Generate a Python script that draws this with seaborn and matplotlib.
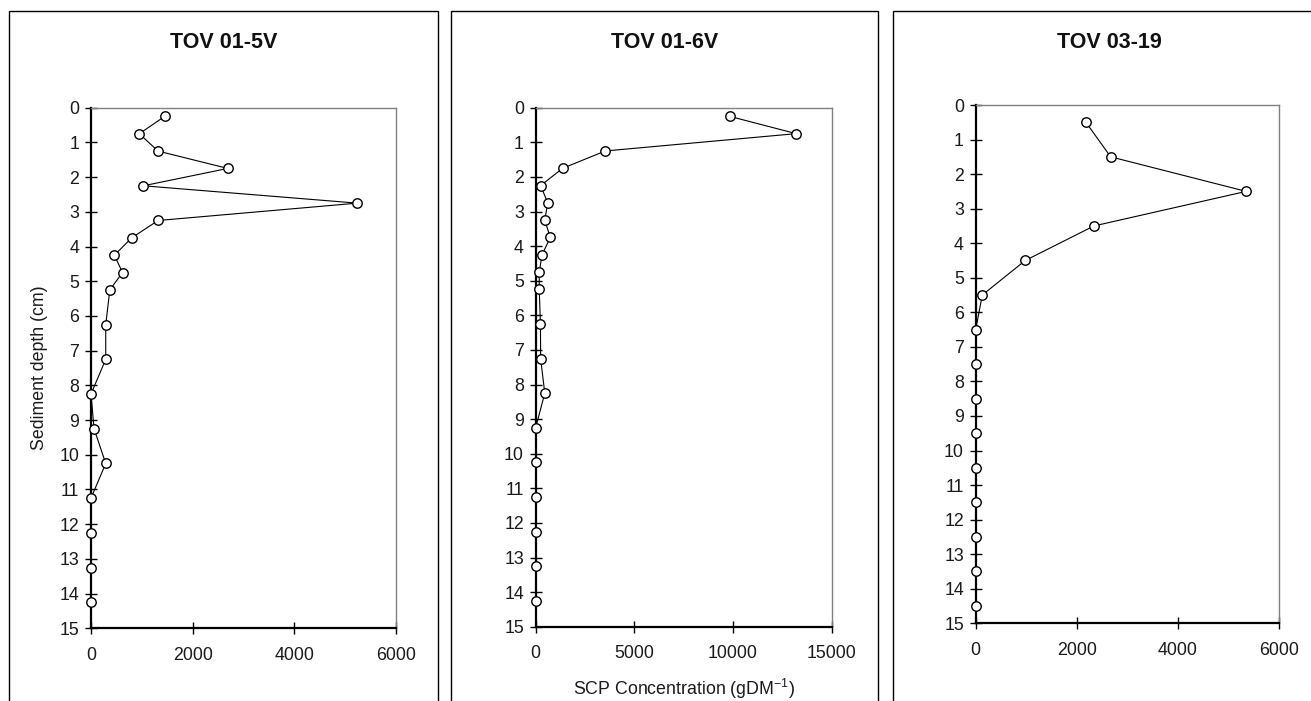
import numpy as np
import pandas as pd
import matplotlib
matplotlib.use("Agg")
import matplotlib.pyplot as plt
from matplotlib.patches import Rectangle
import seaborn as sns

# Core profiles: depth midpoints (cm) and SCP concentrations
depth_5v = [0.25, 0.75, 1.25, 1.75, 2.25, 2.75, 3.25, 3.75, 4.25, 4.75, 5.25,
            6.25, 7.25, 8.25, 9.25, 10.25, 11.25, 12.25, 13.25, 14.25]
scp_5v = [1450, 950, 1320, 2690, 1030, 5240, 1320, 800, 460, 620, 370,
          290, 290, 0, 60, 290, 0, 0, 0, 0]

depth_6v = [0.25, 0.75, 1.25, 1.75, 2.25, 2.75, 3.25, 3.75, 4.25, 4.75, 5.25,
            6.25, 7.25, 8.25, 9.25, 10.25, 11.25, 12.25, 13.25, 14.25]
scp_6v = [9830, 13200, 3530, 1370, 250, 610, 460, 740, 320, 180, 180,
          240, 250, 460, 0, 0, 0, 0, 0, 0]

depth_0319 = [0.5, 1.5, 2.5, 3.5, 4.5, 5.5, 6.5, 7.5, 8.5, 9.5, 10.5,
              11.5, 12.5, 13.5, 14.5]
scp_0319 = [2180, 2670, 5350, 2340, 980, 130, 0, 0, 0, 0, 0, 0, 0, 0, 0]

titles = ["TOV 01-5V", "TOV 01-6V", "TOV 03-19"]
x_ticks = [[0, 2000, 4000, 6000], [0, 5000, 10000, 15000], [0, 2000, 4000, 6000]]
y_ticks = list(range(0, 16))

sns.set_style("white")
plt.rcParams["font.family"] = ["Liberation Sans", "DejaVu Sans"]
plt.rcParams["mathtext.fontset"] = "custom"
plt.rcParams["mathtext.rm"] = "Liberation Sans"
plt.rcParams["mathtext.it"] = "Liberation Sans:italic"
plt.rcParams["mathtext.bf"] = "Liberation Sans:bold"

W, H = 1311, 701
fig = plt.figure(figsize=(W / 100, H / 100), dpi=100)

# axes boxes in pixels: left, right, top, bottom
boxes = [(91, 396, 107.7, 628.3), (535.7, 831.7, 107.7, 626.7), (975.7, 1279, 105, 623.3)]
# panel frames in pixels: left, right
frames = [(9, 438), (451, 878), (893, 1325)]

profiles = [(scp_5v, depth_5v), (scp_6v, depth_6v), (scp_0319, depth_0319)]

for i, ((l, r, t, b), (fl, fr)) in enumerate(zip(boxes, frames)):
    fig.patches.append(Rectangle((fl / W, -0.05), (fr - fl) / W, 1.05 - 11 / H,
                                 transform=fig.transFigure, fill=False,
                                 edgecolor="black", linewidth=1.0))
    fig.text((fl + fr) / 2 / W, 1 - 43 / H, titles[i], ha="center", va="center",
             fontsize=15.5, fontweight="bold", color="#111111")

    ax = fig.add_axes([l / W, 1 - b / H, (r - l) / W, (b - t) / H])
    x, y = profiles[i]
    df = pd.DataFrame({"scp": x, "depth": y})
    sns.lineplot(data=df, x="scp", y="depth", sort=False, estimator=None, ax=ax,
                 color="black", linewidth=0.8, marker="o", markersize=6.8,
                 markerfacecolor="white", markeredgecolor="black",
                 markeredgewidth=1.0, clip_on=False, zorder=5)

    ax.set_xlim(x_ticks[i][0], x_ticks[i][-1])
    ax.set_ylim(15, 0)
    ax.set_xticks(x_ticks[i])
    ax.set_yticks(y_ticks)
    ax.set_xlabel("")
    ax.set_ylabel("")
    ax.tick_params(axis="both", which="major", left=True, bottom=True,
                   direction="inout", length=9, width=1.0,
                   color="black", labelsize=12.8, labelcolor="#1a1a1a")
    ax.tick_params(axis="x", pad=9)
    ax.tick_params(axis="y", pad=4)
    ax.spines["left"].set_color("black")
    ax.spines["left"].set_linewidth(1.6)
    ax.spines["bottom"].set_color("black")
    ax.spines["bottom"].set_linewidth(1.6)
    for s in ["top", "right"]:
        ax.spines[s].set_color("#808080")
        ax.spines[s].set_linewidth(1.0)
    ax.grid(False)

    if i == 0:
        ax.set_ylabel("Sediment depth (cm)", fontsize=12.8, color="#1a1a1a")
        ax.yaxis.set_label_coords((48 - l) / (r - l), 0.5)
    if i == 1:
        ax.set_xlabel(r"SCP Concentration (gDM$^{\mathregular{-1}}$)",
                      fontsize=12.8, color="#1a1a1a")
        ax.xaxis.set_label_coords(0.5, (b - 677) / (b - t))

fig.savefig("out.png", dpi=100)
